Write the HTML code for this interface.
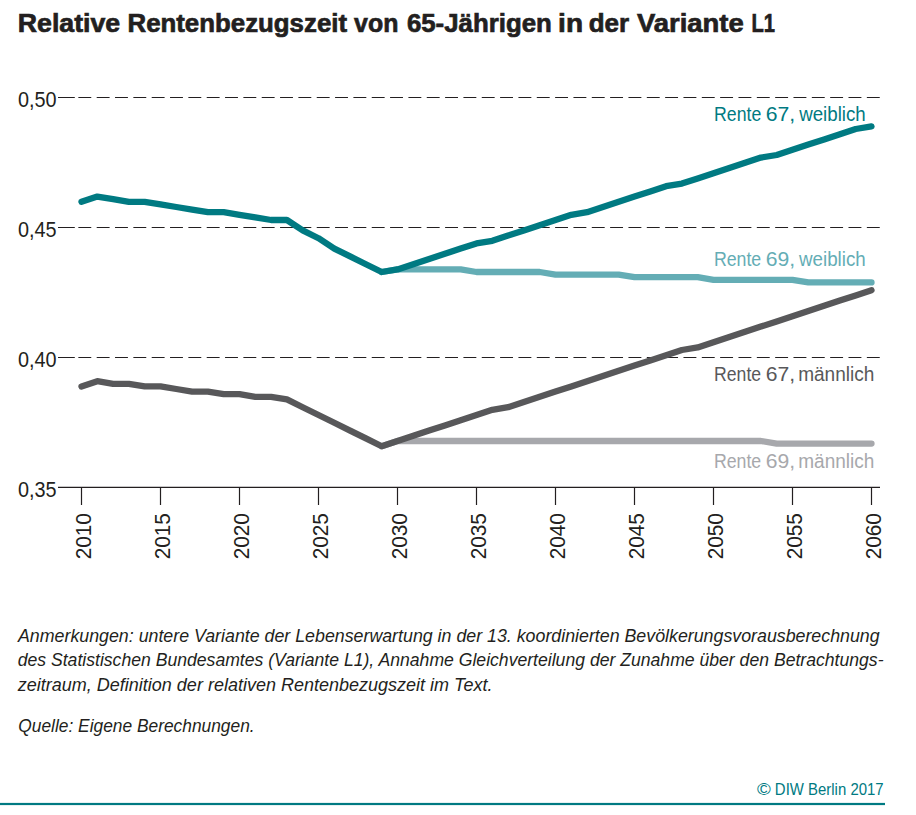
<!DOCTYPE html>
<html><head><meta charset="utf-8"><style>
html,body{margin:0;padding:0;background:#fff;width:916px;height:815px;overflow:hidden}
svg{display:block}
text{font-family:"Liberation Sans",sans-serif}
</style></head><body>
<svg width="916" height="815" viewBox="0 0 916 815">
<path d="M58,97.50 H74.8 M78.35,97.50 H91.25 M96.69,97.50 H109.59 M115.02,97.50 H127.92 M133.36,97.50 H146.26 M151.70,97.50 H164.60 M170.04,97.50 H182.94 M188.37,97.50 H201.27 M206.71,97.50 H219.61 M225.05,97.50 H237.95 M243.38,97.50 H256.28 M261.72,97.50 H274.62 M280.06,97.50 H292.96 M298.39,97.50 H311.29 M316.73,97.50 H329.63 M335.07,97.50 H347.97 M353.41,97.50 H366.31 M371.74,97.50 H384.64 M390.08,97.50 H402.98 M408.42,97.50 H421.32 M426.75,97.50 H439.65 M445.09,97.50 H457.99 M463.43,97.50 H476.33 M481.76,97.50 H494.66 M500.10,97.50 H513.00 M518.44,97.50 H531.34 M536.77,97.50 H549.68 M555.11,97.50 H568.01 M573.45,97.50 H586.35 M591.79,97.50 H604.69 M610.12,97.50 H623.02 M628.46,97.50 H641.36 M646.80,97.50 H659.70 M665.13,97.50 H678.03 M683.47,97.50 H696.37 M701.81,97.50 H714.71 M720.14,97.50 H733.04 M738.48,97.50 H751.38 M756.82,97.50 H769.72 M775.16,97.50 H788.06 M793.49,97.50 H806.39 M811.83,97.50 H824.73 M830.17,97.50 H843.07 M848.50,97.50 H861.40 M866.84,97.50 H879.74" stroke="#231f20" stroke-width="1.05" fill="none"/>
<path d="M58,227.50 H74.8 M78.35,227.50 H91.25 M96.69,227.50 H109.59 M115.02,227.50 H127.92 M133.36,227.50 H146.26 M151.70,227.50 H164.60 M170.04,227.50 H182.94 M188.37,227.50 H201.27 M206.71,227.50 H219.61 M225.05,227.50 H237.95 M243.38,227.50 H256.28 M261.72,227.50 H274.62 M280.06,227.50 H292.96 M298.39,227.50 H311.29 M316.73,227.50 H329.63 M335.07,227.50 H347.97 M353.41,227.50 H366.31 M371.74,227.50 H384.64 M390.08,227.50 H402.98 M408.42,227.50 H421.32 M426.75,227.50 H439.65 M445.09,227.50 H457.99 M463.43,227.50 H476.33 M481.76,227.50 H494.66 M500.10,227.50 H513.00 M518.44,227.50 H531.34 M536.77,227.50 H549.68 M555.11,227.50 H568.01 M573.45,227.50 H586.35 M591.79,227.50 H604.69 M610.12,227.50 H623.02 M628.46,227.50 H641.36 M646.80,227.50 H659.70 M665.13,227.50 H678.03 M683.47,227.50 H696.37 M701.81,227.50 H714.71 M720.14,227.50 H733.04 M738.48,227.50 H751.38 M756.82,227.50 H769.72 M775.16,227.50 H788.06 M793.49,227.50 H806.39 M811.83,227.50 H824.73 M830.17,227.50 H843.07 M848.50,227.50 H861.40 M866.84,227.50 H879.74" stroke="#231f20" stroke-width="1.05" fill="none"/>
<path d="M58,357.50 H74.8 M78.35,357.50 H91.25 M96.69,357.50 H109.59 M115.02,357.50 H127.92 M133.36,357.50 H146.26 M151.70,357.50 H164.60 M170.04,357.50 H182.94 M188.37,357.50 H201.27 M206.71,357.50 H219.61 M225.05,357.50 H237.95 M243.38,357.50 H256.28 M261.72,357.50 H274.62 M280.06,357.50 H292.96 M298.39,357.50 H311.29 M316.73,357.50 H329.63 M335.07,357.50 H347.97 M353.41,357.50 H366.31 M371.74,357.50 H384.64 M390.08,357.50 H402.98 M408.42,357.50 H421.32 M426.75,357.50 H439.65 M445.09,357.50 H457.99 M463.43,357.50 H476.33 M481.76,357.50 H494.66 M500.10,357.50 H513.00 M518.44,357.50 H531.34 M536.77,357.50 H549.68 M555.11,357.50 H568.01 M573.45,357.50 H586.35 M591.79,357.50 H604.69 M610.12,357.50 H623.02 M628.46,357.50 H641.36 M646.80,357.50 H659.70 M665.13,357.50 H678.03 M683.47,357.50 H696.37 M701.81,357.50 H714.71 M720.14,357.50 H733.04 M738.48,357.50 H751.38 M756.82,357.50 H769.72 M775.16,357.50 H788.06 M793.49,357.50 H806.39 M811.83,357.50 H824.73 M830.17,357.50 H843.07 M848.50,357.50 H861.40 M866.84,357.50 H879.74" stroke="#231f20" stroke-width="1.05" fill="none"/>
<line x1="58" y1="487.4000000000001" x2="880" y2="487.4000000000001" stroke="#231f20" stroke-width="1.2"/>
<line x1="81.5" y1="487.4000000000001" x2="81.5" y2="505" stroke="#231f20" stroke-width="1.2"/>
<line x1="160.5" y1="487.4000000000001" x2="160.5" y2="505" stroke="#231f20" stroke-width="1.2"/>
<line x1="239.5" y1="487.4000000000001" x2="239.5" y2="505" stroke="#231f20" stroke-width="1.2"/>
<line x1="318.5" y1="487.4000000000001" x2="318.5" y2="505" stroke="#231f20" stroke-width="1.2"/>
<line x1="397.5" y1="487.4000000000001" x2="397.5" y2="505" stroke="#231f20" stroke-width="1.2"/>
<line x1="476.5" y1="487.4000000000001" x2="476.5" y2="505" stroke="#231f20" stroke-width="1.2"/>
<line x1="555.5" y1="487.4000000000001" x2="555.5" y2="505" stroke="#231f20" stroke-width="1.2"/>
<line x1="634.5" y1="487.4000000000001" x2="634.5" y2="505" stroke="#231f20" stroke-width="1.2"/>
<line x1="713.5" y1="487.4000000000001" x2="713.5" y2="505" stroke="#231f20" stroke-width="1.2"/>
<line x1="792.5" y1="487.4000000000001" x2="792.5" y2="505" stroke="#231f20" stroke-width="1.2"/>
<line x1="871.5" y1="487.4000000000001" x2="871.5" y2="505" stroke="#231f20" stroke-width="1.2"/>
<path d="M381.70,446.20 L397.50,441.00 L413.30,441.00 L429.10,441.00 L444.90,441.00 L460.70,441.00 L476.50,441.00 L492.30,441.00 L508.10,441.00 L523.90,441.00 L539.70,441.00 L555.50,441.00 L571.30,441.00 L587.10,441.00 L602.90,441.00 L618.70,441.00 L634.50,441.00 L650.30,441.00 L666.10,441.00 L681.90,441.00 L697.70,441.00 L713.50,441.00 L729.30,441.00 L745.10,441.00 L760.90,441.00 L776.70,443.60 L792.50,443.60 L808.30,443.60 L824.10,443.60 L839.90,443.60 L855.70,443.60 L871.50,443.60" stroke="#a7a8ac" fill="none" stroke-width="6.3" stroke-linecap="round" stroke-linejoin="round"/>
<path d="M81.50,386.40 L97.30,381.20 L113.10,383.80 L128.90,383.80 L144.70,386.40 L160.50,386.40 L176.30,389.00 L192.10,391.60 L207.90,391.60 L223.70,394.20 L239.50,394.20 L255.30,396.80 L271.10,396.80 L286.90,399.40 L302.70,407.20 L318.50,415.00 L334.30,422.80 L350.10,430.60 L365.90,438.40 L381.70,446.20 L397.50,441.00 L413.30,435.80 L429.10,430.60 L444.90,425.40 L460.70,420.20 L476.50,415.00 L492.30,409.80 L508.10,407.20 L523.90,402.00 L539.70,396.80 L555.50,391.60 L571.30,386.40 L587.10,381.20 L602.90,376.00 L618.70,370.80 L634.50,365.60 L650.30,360.40 L666.10,355.20 L681.90,350.00 L697.70,347.40 L713.50,342.20 L729.30,337.00 L745.10,331.80 L760.90,326.60 L776.70,321.40 L792.50,316.20 L808.30,311.00 L824.10,305.80 L839.90,300.60 L855.70,295.40 L871.50,290.20" stroke="#58585a" fill="none" stroke-width="6.3" stroke-linecap="round" stroke-linejoin="round"/>
<path d="M381.70,272.00 L397.50,269.40 L413.30,269.40 L429.10,269.40 L444.90,269.40 L460.70,269.40 L476.50,272.00 L492.30,272.00 L508.10,272.00 L523.90,272.00 L539.70,272.00 L555.50,274.60 L571.30,274.60 L587.10,274.60 L602.90,274.60 L618.70,274.60 L634.50,277.20 L650.30,277.20 L666.10,277.20 L681.90,277.20 L697.70,277.20 L713.50,279.80 L729.30,279.80 L745.10,279.80 L760.90,279.80 L776.70,279.80 L792.50,279.80 L808.30,282.40 L824.10,282.40 L839.90,282.40 L855.70,282.40 L871.50,282.40" stroke="#64adb5" fill="none" stroke-width="6.3" stroke-linecap="round" stroke-linejoin="round"/>
<path d="M81.50,201.80 L97.30,196.60 L113.10,199.20 L128.90,201.80 L144.70,201.80 L160.50,204.40 L176.30,207.00 L192.10,209.60 L207.90,212.20 L223.70,212.20 L239.50,214.80 L255.30,217.40 L271.10,220.00 L286.90,220.00 L302.70,230.40 L318.50,238.20 L334.30,248.60 L350.10,256.40 L365.90,264.20 L381.70,272.00 L397.50,269.40 L413.30,264.20 L429.10,259.00 L444.90,253.80 L460.70,248.60 L476.50,243.40 L492.30,240.80 L508.10,235.60 L523.90,230.40 L539.70,225.20 L555.50,220.00 L571.30,214.80 L587.10,212.20 L602.90,207.00 L618.70,201.80 L634.50,196.60 L650.30,191.40 L666.10,186.20 L681.90,183.60 L697.70,178.40 L713.50,173.20 L729.30,168.00 L745.10,162.80 L760.90,157.60 L776.70,155.00 L792.50,149.80 L808.30,144.60 L824.10,139.40 L839.90,134.20 L855.70,129.00 L871.50,126.40" stroke="#007a82" fill="none" stroke-width="6.3" stroke-linecap="round" stroke-linejoin="round"/>
<text x="17.802" y="31.5" font-size="26.4" font-weight="bold" stroke="#231f20" stroke-width="0.7" textLength="102.444" lengthAdjust="spacingAndGlyphs" fill="#231f20">Relative</text>
<text x="127.498" y="31.5" font-size="26.4" font-weight="bold" stroke="#231f20" stroke-width="0.7" textLength="219.549" lengthAdjust="spacingAndGlyphs" fill="#231f20">Rentenbezugszeit</text>
<text x="354.112" y="31.5" font-size="26.4" font-weight="bold" stroke="#231f20" stroke-width="0.7" textLength="44.293" lengthAdjust="spacingAndGlyphs" fill="#231f20">von</text>
<text x="406.903" y="31.5" font-size="26.4" font-weight="bold" stroke="#231f20" stroke-width="0.7" textLength="144.994" lengthAdjust="spacingAndGlyphs" fill="#231f20">65-Jährigen</text>
<text x="558.099" y="31.5" font-size="26.4" font-weight="bold" stroke="#231f20" stroke-width="0.7" textLength="24.92" lengthAdjust="spacingAndGlyphs" fill="#231f20">in</text>
<text x="588.711" y="31.5" font-size="26.4" font-weight="bold" stroke="#231f20" stroke-width="0.7" textLength="40.41" lengthAdjust="spacingAndGlyphs" fill="#231f20">der</text>
<text x="636.925" y="31.5" font-size="26.4" font-weight="bold" stroke="#231f20" stroke-width="0.7" textLength="106.803" lengthAdjust="spacingAndGlyphs" fill="#231f20">Variante</text>
<text x="751.578" y="31.5" font-size="26.4" font-weight="bold" stroke="#231f20" stroke-width="0.7" textLength="23.496" lengthAdjust="spacingAndGlyphs" fill="#231f20">L1</text>
<text x="714.024" y="120.5" font-size="20.5"  textLength="47.224" lengthAdjust="spacingAndGlyphs" fill="#007a82">Rente</text>
<text x="765.668" y="120.5" font-size="20.5"  textLength="29.383" lengthAdjust="spacingAndGlyphs" fill="#007a82">67,</text>
<text x="799.144" y="120.5" font-size="20.5"  textLength="66.61" lengthAdjust="spacingAndGlyphs" fill="#007a82">weiblich</text>
<text x="713.903" y="265.5" font-size="20.5"  textLength="47.32" lengthAdjust="spacingAndGlyphs" fill="#64adb5">Rente</text>
<text x="765.699" y="265.5" font-size="20.5"  textLength="29.37" lengthAdjust="spacingAndGlyphs" fill="#64adb5">69,</text>
<text x="799.023" y="265.5" font-size="20.5"  textLength="66.719" lengthAdjust="spacingAndGlyphs" fill="#64adb5">weiblich</text>
<text x="714.046" y="380.5" font-size="20.5"  textLength="47.086" lengthAdjust="spacingAndGlyphs" fill="#58585a">Rente</text>
<text x="765.701" y="380.5" font-size="20.5"  textLength="29.344" lengthAdjust="spacingAndGlyphs" fill="#58585a">67,</text>
<text x="798.15" y="380.5" font-size="20.5"  textLength="76.26" lengthAdjust="spacingAndGlyphs" fill="#58585a">männlich</text>
<text x="713.901" y="467.5" font-size="20.5"  textLength="47.322" lengthAdjust="spacingAndGlyphs" fill="#a7a8ac">Rente</text>
<text x="765.715" y="467.5" font-size="20.5"  textLength="29.348" lengthAdjust="spacingAndGlyphs" fill="#a7a8ac">69,</text>
<text x="798.192" y="467.5" font-size="20.5"  textLength="76.201" lengthAdjust="spacingAndGlyphs" fill="#a7a8ac">männlich</text>
<text x="18.008" y="641.8" font-size="18.5" font-style="italic" textLength="861.63" lengthAdjust="spacingAndGlyphs" fill="#231f20">Anmerkungen: untere Variante der Lebenserwartung in der 13. koordinierten Bevölkerungsvorausberechnung</text>
<text x="17.674" y="665.8" font-size="18.5" font-style="italic" textLength="865.843" lengthAdjust="spacingAndGlyphs" fill="#231f20">des Statistischen Bundesamtes (Variante L1), Annahme Gleichverteilung der Zunahme über den Betrachtungs-</text>
<text x="17.796" y="690.7" font-size="18.5" font-style="italic" textLength="474.615" lengthAdjust="spacingAndGlyphs" fill="#231f20">zeitraum, Definition der relativen Rentenbezugszeit im Text.</text>
<text x="18.294" y="732.4" font-size="18.5" font-style="italic" textLength="236.326" lengthAdjust="spacingAndGlyphs" fill="#231f20">Quelle: Eigene Berechnungen.</text>
<text x="757.007" y="794.9" font-size="16.5"  textLength="13.801" lengthAdjust="spacingAndGlyphs" fill="#007a82">©</text>
<text x="774.851" y="794.9" font-size="16.5"  textLength="108.795" lengthAdjust="spacingAndGlyphs" fill="#007a82">DIW Berlin 2017</text>
<text x="18.033" y="106.9" font-size="22.5"  textLength="38.615" lengthAdjust="spacingAndGlyphs" fill="#231f20">0,50</text>
<text x="18.033" y="236.9" font-size="22.5"  textLength="38.615" lengthAdjust="spacingAndGlyphs" fill="#231f20">0,45</text>
<text x="18.033" y="366.9" font-size="22.5"  textLength="38.615" lengthAdjust="spacingAndGlyphs" fill="#231f20">0,40</text>
<text x="18.033" y="496.9" font-size="22.5"  textLength="38.615" lengthAdjust="spacingAndGlyphs" fill="#231f20">0,35</text>
<text transform="translate(91.00,559.367) rotate(-90)" font-size="22.5" textLength="46.19" lengthAdjust="spacingAndGlyphs" fill="#231f20">2010</text>
<text transform="translate(170.00,559.367) rotate(-90)" font-size="22.5" textLength="46.19" lengthAdjust="spacingAndGlyphs" fill="#231f20">2015</text>
<text transform="translate(249.00,559.367) rotate(-90)" font-size="22.5" textLength="46.19" lengthAdjust="spacingAndGlyphs" fill="#231f20">2020</text>
<text transform="translate(328.00,559.367) rotate(-90)" font-size="22.5" textLength="46.19" lengthAdjust="spacingAndGlyphs" fill="#231f20">2025</text>
<text transform="translate(407.00,559.367) rotate(-90)" font-size="22.5" textLength="46.19" lengthAdjust="spacingAndGlyphs" fill="#231f20">2030</text>
<text transform="translate(486.00,559.367) rotate(-90)" font-size="22.5" textLength="46.19" lengthAdjust="spacingAndGlyphs" fill="#231f20">2035</text>
<text transform="translate(565.00,559.367) rotate(-90)" font-size="22.5" textLength="46.19" lengthAdjust="spacingAndGlyphs" fill="#231f20">2040</text>
<text transform="translate(644.00,559.367) rotate(-90)" font-size="22.5" textLength="46.19" lengthAdjust="spacingAndGlyphs" fill="#231f20">2045</text>
<text transform="translate(723.00,559.367) rotate(-90)" font-size="22.5" textLength="46.19" lengthAdjust="spacingAndGlyphs" fill="#231f20">2050</text>
<text transform="translate(802.00,559.367) rotate(-90)" font-size="22.5" textLength="46.19" lengthAdjust="spacingAndGlyphs" fill="#231f20">2055</text>
<text transform="translate(881.00,559.367) rotate(-90)" font-size="22.5" textLength="46.19" lengthAdjust="spacingAndGlyphs" fill="#231f20">2060</text>
<rect x="0" y="802.9" width="885" height="2.2" fill="#007a82"/>
</svg>
</body></html>
